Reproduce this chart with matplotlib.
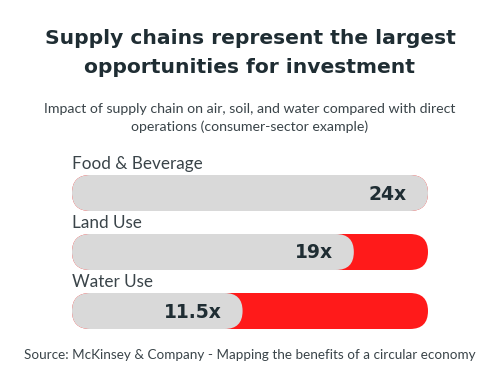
import matplotlib.pyplot as plt
from matplotlib.patches import FancyBboxPatch

# ================= DATA ================= #
CATEGORIES = ["Food & Beverage", "Land Use", "Water Use"]
VALUES = [24, 19, 11.5]
VALUE_LABELS = ["24x", "19x", "11.5x"]
MAX_VALUE = 24

TITLE = "Supply chains represent the largest\nopportunities for investment"
SUBTITLE = ("Impact of supply chain on air, soil, and water compared with direct\n"
            "operations (consumer-sector example)")
SOURCE = "Source: McKinsey & Company - Mapping the benefits of a circular economy"

# ================= STYLE ================= #
DARK = "#1f2d33"
GREY_TXT = "#3a4449"
BAR_GREY = "#d9d9d9"
BAR_RED = "#ff1a1a"

BAR_LEFT = 72
BAR_WIDTH = 356
BAR_HEIGHT = 36
BAR_TOPS = [175, 234, 293]

plt.rcParams["font.family"] = ["Lato", "DejaVu Sans"]

fig = plt.figure(figsize=(5, 3.85), dpi=100)
ax = fig.add_axes([0, 0, 1, 1])
ax.set_xlim(0, 500)
ax.set_ylim(385, 0)
ax.axis("off")

ax.text(250, 53, TITLE, ha="center", va="center", fontsize=14.6,
        fontweight="bold", color=DARK, linespacing=1.65,
        family=["DejaVu Sans"])
ax.text(250, 118, SUBTITLE, ha="center", va="center", fontsize=10.2,
        color=GREY_TXT, linespacing=1.45)

r = BAR_HEIGHT / 2
for cat, val, lab, top in zip(CATEGORIES, VALUES, VALUE_LABELS, BAR_TOPS):
    ax.text(BAR_LEFT, top - 11, cat, ha="left", va="center",
            fontsize=12.3, color=GREY_TXT)
    # red background bar (full scale)
    ax.add_patch(FancyBboxPatch((BAR_LEFT, top), BAR_WIDTH, BAR_HEIGHT,
                                boxstyle=f"round,pad=0,rounding_size={r}",
                                fc=BAR_RED, ec="none"))
    w = BAR_WIDTH * val / MAX_VALUE
    ax.add_patch(FancyBboxPatch((BAR_LEFT, top), w, BAR_HEIGHT,
                                boxstyle=f"round,pad=0,rounding_size={r}",
                                fc=BAR_GREY, ec="none"))
    ax.text(BAR_LEFT + w - 21, top + BAR_HEIGHT / 2 + 1, lab,
            ha="right", va="center", fontsize=13.5, fontweight="bold",
            color=DARK, family=["DejaVu Sans"])

ax.text(250, 355, SOURCE, ha="center", va="center", fontsize=9.7,
        color=GREY_TXT)

fig.savefig("out.png", dpi=100, facecolor="white")
